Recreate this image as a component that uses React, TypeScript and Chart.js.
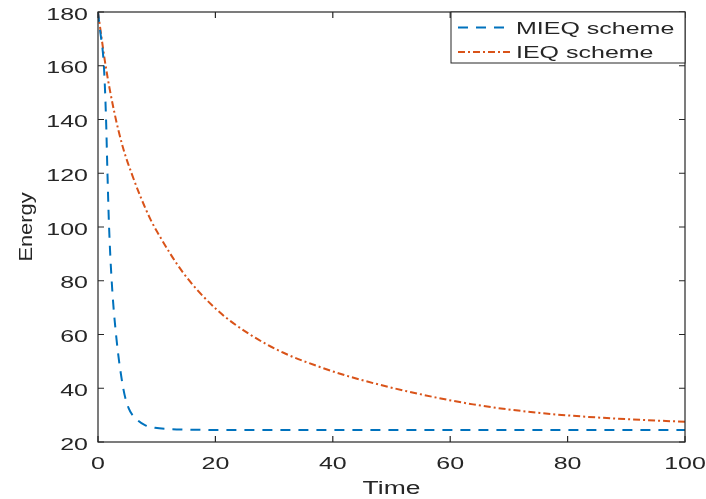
import React, { useEffect, useRef } from "react";
import { Chart, registerables } from "chart.js";

Chart.register(...registerables);

// ---- data ----
const mieqTime = [0, 0.34, 1.0, 1.36, 1.6, 1.87, 2.33, 3.07, 4.3, 5.2, 6.6, 8.0, 9.7, 12, 15, 20, 40, 60, 80, 100];
const mieqEnergy = [180, 173.5, 160, 141, 121, 101, 80, 60, 40, 32.7, 28.4, 26.3, 25.3, 24.8, 24.6, 24.5, 24.5, 24.5, 24.5, 24.5];

const ieqTime = [0, 1.3, 2.8, 4.3, 5.8, 7.2, 8.9, 10, 14.5, 20.2, 25.9, 31.6, 37.3, 42.9, 52.6, 63.9, 75.3, 86.7, 100];
const ieqEnergy = [180, 160, 142.5, 129.2, 119.5, 111.5, 103, 98.5, 83, 69.3, 60, 53.2, 48.3, 44.3, 38.9, 34.0, 30.8, 28.9, 27.5];

const xTicks = [0, 20, 40, 60, 80, 100];
const yTicks = [20, 40, 60, 80, 100, 120, 140, 160, 180];
const seriesLabels = ["MIEQ scheme", "IEQ scheme"];
const xTitle = "Time";
const yTitle = "Energy";

// ---- styles ----
const FONT = '"Liberation Sans", Arial, sans-serif';
const STRETCH = 1.47;
const AXIS = "#262626";
const BLUE = "#0072BD";
const ORANGE = "#D95319";
const BLUE_DASH = [10, 8];
const ORANGE_DASH = [7, 3, 2, 3];

function drawText(
  ctx: CanvasRenderingContext2D,
  text: string,
  x: number,
  y: number,
  align: CanvasTextAlign,
  size: number,
  rotate = 0,
  stretch = STRETCH
) {
  ctx.save();
  ctx.font = `${size}px ${FONT}`;
  ctx.fillStyle = AXIS;
  ctx.translate(x, y);
  if (rotate) ctx.rotate(rotate);
  ctx.scale(stretch, 1);
  ctx.textAlign = align;
  ctx.textBaseline = "alphabetic";
  ctx.fillText(text, 0, 0);
  ctx.restore();
}

const matlabAxes = {
  id: "matlabAxes",
  afterDraw(chart: any) {
    const ctx: CanvasRenderingContext2D = chart.ctx;
    const { left, right, top, bottom } = chart.chartArea;
    const xs = chart.scales.x;
    const ys = chart.scales.y;
    const tick = 6;

    ctx.save();
    ctx.strokeStyle = AXIS;
    ctx.lineWidth = 1.2;
    ctx.setLineDash([]);
    ctx.strokeRect(left, top, right - left, bottom - top);

    ctx.beginPath();
    for (const v of yTicks) {
      const py = ys.getPixelForValue(v);
      ctx.moveTo(left, py);
      ctx.lineTo(left + tick, py);
      ctx.moveTo(right, py);
      ctx.lineTo(right - tick, py);
    }
    for (const v of xTicks) {
      const px = xs.getPixelForValue(v);
      ctx.moveTo(px, bottom);
      ctx.lineTo(px, bottom - tick);
      ctx.moveTo(px, top);
      ctx.lineTo(px, top + tick);
    }
    ctx.stroke();
    ctx.restore();

    for (const v of yTicks) {
      const py = ys.getPixelForValue(v);
      drawText(ctx, String(v), left - 10, py + 7.5, "right", 17);
    }
    for (const v of xTicks) {
      const px = xs.getPixelForValue(v);
      drawText(ctx, String(v), px, 468.5, "center", 17);
    }
    drawText(ctx, xTitle, (left + right) / 2, 494, "center", 18);
    drawText(ctx, yTitle, 32, (top + bottom) / 2, "center", 19, -Math.PI / 2, 1.15);

    // legend
    const lx0 = 451;
    const lx1 = right;
    const ly0 = top;
    const ly1 = 63;
    ctx.save();
    ctx.fillStyle = "#ffffff";
    ctx.fillRect(lx0, ly0, lx1 - lx0, ly1 - ly0);
    ctx.strokeStyle = AXIS;
    ctx.lineWidth = 1;
    ctx.strokeRect(lx0, ly0, lx1 - lx0, ly1 - ly0);

    const entries = [
      { label: seriesLabels[0], color: BLUE, dash: BLUE_DASH, y: 27.5 },
      { label: seriesLabels[1], color: ORANGE, dash: ORANGE_DASH, y: 52 },
    ];
    for (const e of entries) {
      ctx.beginPath();
      ctx.strokeStyle = e.color;
      ctx.lineWidth = 2;
      ctx.setLineDash(e.dash);
      ctx.moveTo(458, e.y);
      ctx.lineTo(511, e.y);
      ctx.stroke();
    }
    ctx.restore();
    for (const e of entries) {
      drawText(ctx, e.label, 516, e.y + 6, "left", 17);
    }
  },
};

export default function App() {
  const ref = useRef<HTMLCanvasElement | null>(null);

  useEffect(() => {
    if (!ref.current) return;
    const chart = new Chart(ref.current, {
      type: "line",
      data: {
        datasets: [
          {
            label: seriesLabels[0],
            data: mieqTime.map((t, i) => ({ x: t, y: mieqEnergy[i] })),
            borderColor: BLUE,
            borderWidth: 2,
            borderDash: BLUE_DASH,
            pointRadius: 0,
            fill: false,
            cubicInterpolationMode: "monotone",
          },
          {
            label: seriesLabels[1],
            data: ieqTime.map((t, i) => ({ x: t, y: ieqEnergy[i] })),
            borderColor: ORANGE,
            borderWidth: 2,
            borderDash: ORANGE_DASH,
            pointRadius: 0,
            fill: false,
            cubicInterpolationMode: "monotone",
          },
        ],
      },
      options: {
        animation: false,
        responsive: false,
        devicePixelRatio: 1,
        layout: { padding: { left: 98, right: 21, top: 12, bottom: 57 } },
        plugins: {
          legend: { display: false },
          tooltip: { enabled: false },
          title: { display: false },
        },
        scales: {
          x: { type: "linear", min: 0, max: 100, display: false },
          y: { type: "linear", min: 20, max: 180, display: false },
        },
      },
      plugins: [matlabAxes],
    });
    return () => chart.destroy();
  }, []);

  return (
    <div style={{ position: "fixed", left: 0, top: 0, width: 706, height: 499, background: "#fff" }}>
      <canvas ref={ref} width={706} height={499} style={{ display: "block" }} />
    </div>
  );
}
